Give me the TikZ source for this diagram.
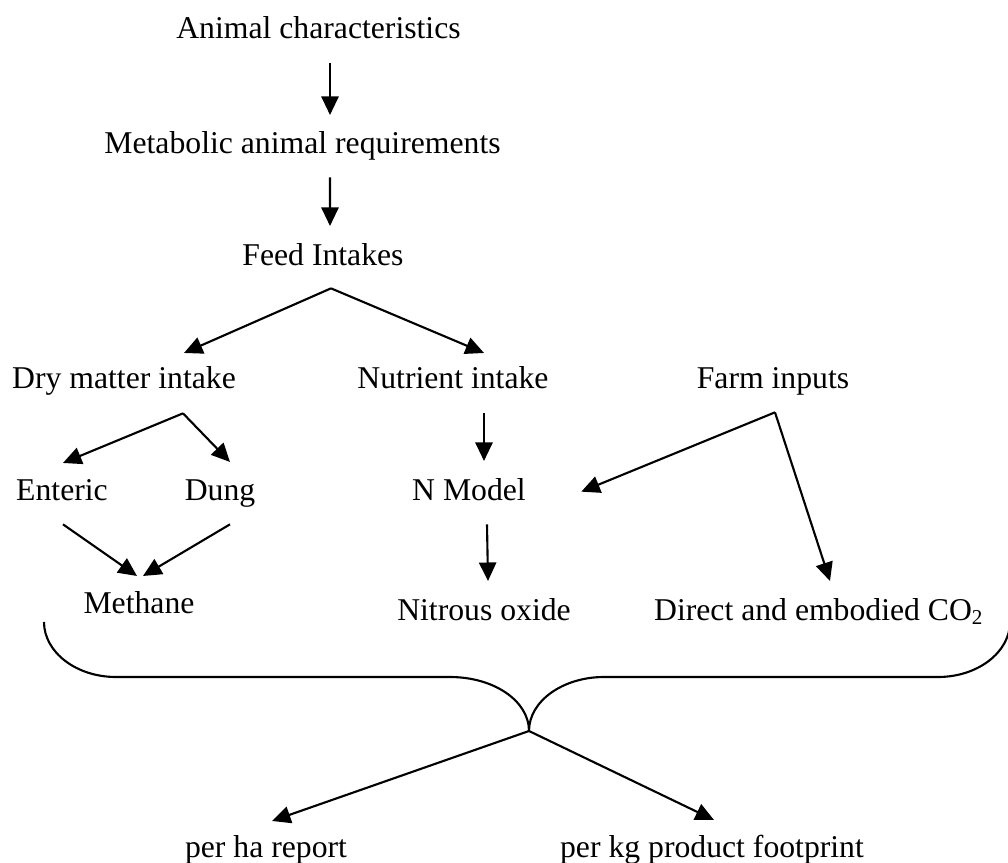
\documentclass[tikz,border=0pt]{standalone}
\usepackage{fontspec}
\setmainfont{Liberation Serif}
\usetikzlibrary{arrows.meta}

\tikzset{
  lbl/.style={inner sep=0pt, anchor=base, text height=0.7em, text depth=0.22em},
  arr/.style={line width=0.8pt, -{Triangle[length=7pt,width=6.5pt]}}
}

\begin{document}
\begin{tikzpicture}[x=0.3785pt,y=-0.3785pt,font=\fontsize{12}{14}\selectfont]
	\useasboundingbox (0,0) rectangle (1008,863);

	\node[lbl] (animal) at (318.5,39) {Animal characteristics};
	\node[lbl] (metab) at (302.5,153) {Metabolic animal requirements};
	\node[lbl] (feed) at (323,265) {Feed Intakes};

	\node[lbl] (dry) at (124,388) {Dry matter intake};
	\node[lbl] (nutr) at (453,388) {Nutrient intake};
	\node[lbl] (farm) at (773,388) {Farm inputs};

	\node[lbl] (ent) at (62,500) {Enteric};
	\node[lbl] (dung) at (220,500) {Dung};
	\node[lbl] (nmod) at (469,500) {N Model};

	\node[lbl] (meth) at (139,613) {Methane};
	\node[lbl] (nitr) at (484,620) {Nitrous oxide};
	\node[lbl] (co2) at (819,620) {Direct and embodied CO\textsubscript{2}};

	\node[lbl] (ha) at (266,857) {per ha report};
	\node[lbl] (kg) at (712,857) {per kg product footprint};

	% split points
	\coordinate (feedsplit) at ([shift={(8,17)}]feed.south);
	\coordinate (drysplit) at ([shift={(59,19)}]dry.south);
	\coordinate (farmsplit) at ([shift={(2,18)}]farm.south);
	\coordinate (bracetip) at (529,731);

	\draw[arr] ([shift={(11.5,18)}]animal.south) -- ([shift={(27.5,-19)}]metab.north);
	\draw[arr] ([shift={(27.5,18)}]metab.south) -- ([shift={(7,-20)}]feed.north);

	\draw[arr] (feedsplit) -- ([shift={(60,-16)}]dry.north);
	\draw[arr] (feedsplit) -- ([shift={(31,-16)}]nutr.north);

	\draw[arr] (drysplit) -- ([shift={(1,-18)}]ent.north);
	\draw[arr] (drysplit) -- ([shift={(10,-19)}]dung.north);
	\draw[arr] ([shift={(31,19)}]nutr.south) -- ([shift={(15,-20)}]nmod.north);

	\draw[arr] (farmsplit) -- ([shift={(55,-2)}]nmod.east);
	\draw[arr] (farmsplit) -- ([shift={(11,-20)}]co2.north);

	\draw[arr] ([shift={(1,18)}]ent.south) -- ([shift={(-2,-18)}]meth.north);
	\draw[arr] ([shift={(10,18)}]dung.south) -- ([shift={(4,-18)}]meth.north);
	\draw[arr] ([shift={(18,18)}]nmod.south) -- ([shift={(4,-20)}]nitr.north);

	% brace
	\draw[line width=0.8pt] (44,622) .. controls (44,652) and (76,677) .. (116,677) -- (450,677)
	      .. controls (494,677) and (529,701) .. (bracetip)
	      .. controls (529,701) and (563,677) .. (604,677) -- (938,677)
	      .. controls (978,677) and (1010,652) .. (1010,622);

	\draw[arr] (bracetip) -- ([shift={(6,-17)}]ha.north);
	\draw[arr] (bracetip) -- ([shift={(2,-18)}]kg.north);
\end{tikzpicture}
\end{document}
